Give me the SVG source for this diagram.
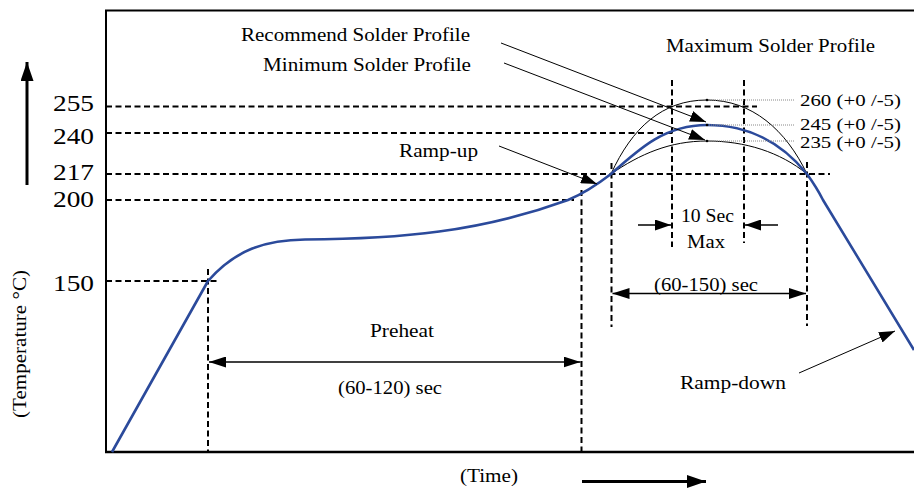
<svg xmlns="http://www.w3.org/2000/svg" width="914" height="488" viewBox="0 0 914 488">
<style>
text{font-family:"Liberation Serif","Times New Roman",serif;fill:#000}
.lbl{font-size:18px}
.num{font-size:23px}
.tol{font-size:16px}
.frame{stroke:#000;stroke-width:2;fill:none}
.dash{stroke:#000;stroke-width:2;stroke-dasharray:6 3.5;fill:none}
.blue{stroke:#2b4a9b;stroke-width:2.6;fill:none;stroke-linejoin:round}
.thin{stroke:#000;stroke-width:1;fill:none}
.dot{stroke:#888;stroke-width:1;stroke-dasharray:1 1;fill:none}
.lead{stroke:#000;stroke-width:1;fill:none;marker-end:url(#ah)}
.dim{stroke:#000;stroke-width:1.3;fill:none}
</style>
<defs>
<marker id="ah" markerUnits="userSpaceOnUse" markerWidth="16" markerHeight="11" refX="16" refY="5.5" orient="auto"><path d="M0,0 L16,5.5 L0,11 z" fill="#000"/></marker>
<marker id="ah2" markerUnits="userSpaceOnUse" markerWidth="17" markerHeight="11" refX="17" refY="5.5" orient="auto-start-reverse"><path d="M0,0 L17,5.5 L0,11 z" fill="#000"/></marker>
<marker id="ahb" markerUnits="userSpaceOnUse" markerWidth="19" markerHeight="13" refX="19" refY="6.5" orient="auto"><path d="M0,0 L19,6.5 L0,13 z" fill="#000"/></marker>
</defs>

<g id="frame">
<path class="frame" d="M914,10.5 H106 V452"/>
<path d="M105,452 H914" stroke="#000" stroke-width="2.5"/>
</g>

<g id="axes">
<line x1="27" y1="185" x2="27" y2="62" stroke="#000" stroke-width="3" marker-end="url(#ahb)"/>
<line x1="582" y1="481.5" x2="706" y2="481.5" stroke="#000" stroke-width="3" marker-end="url(#ahb)"/>
<text class="lbl" transform="translate(26,344) rotate(-90)" x="-74" y="0" textLength="148" lengthAdjust="spacingAndGlyphs">(Temperature °C)</text>
<text class="lbl" x="460" y="482" textLength="58" lengthAdjust="spacingAndGlyphs">(Time)</text>
</g>

<g id="ticks">
<text class="num" x="53" y="111" textLength="41" lengthAdjust="spacingAndGlyphs">255</text>
<text class="num" x="53" y="144" textLength="41" lengthAdjust="spacingAndGlyphs">240</text>
<text class="num" x="53" y="180" textLength="41" lengthAdjust="spacingAndGlyphs">217</text>
<text class="num" x="53" y="207" textLength="41" lengthAdjust="spacingAndGlyphs">200</text>
<text class="num" x="53" y="291" textLength="41" lengthAdjust="spacingAndGlyphs">150</text>
</g>

<g id="guides">
<line class="dash" x1="106" y1="106.5" x2="757" y2="106.5"/>
<line class="dash" x1="106" y1="133" x2="672" y2="133"/>
<line class="dash" x1="106" y1="174" x2="830" y2="174"/>
<line class="dash" x1="106" y1="200" x2="574" y2="200"/>
<line class="dash" x1="106" y1="281" x2="218" y2="281"/>
<line class="dash" x1="208" y1="269" x2="208" y2="452"/>
<line class="dash" x1="581.5" y1="190" x2="581.5" y2="452"/>
<line class="dash" x1="611.5" y1="163" x2="611.5" y2="327"/>
<line class="dash" x1="672" y1="80" x2="672" y2="247"/>
<line class="dash" x1="744" y1="80" x2="744" y2="243"/>
<line class="dash" x1="807" y1="162" x2="807" y2="326"/>
</g>

<g id="curves">
<path class="thin" d="M611,174 C632,128 662,100 707,100 C752,100 786,130 807,174"/>
<path class="thin" d="M611,174 C640,154 670,141 707,141 C745,141 780,152 807,174"/>
<path class="blue" d="M112,452 L208,281 C235,250 265,240 305,239.5 C400,239 480,232 568,200 C585,193 598,184 611,174 C640,148 665,125 707,125 C748,125 782,143 807,174 C812,181 818,190 823,200 L914,350"/>
</g>

<g id="peaks">
<line class="dot" x1="707" y1="100" x2="795" y2="100"/>
<line class="dot" x1="707" y1="125" x2="795" y2="125"/>
<line class="dot" x1="707" y1="141" x2="795" y2="141"/>
<circle cx="707" cy="100" r="1.3" fill="#000"/>
<circle cx="707" cy="125" r="1.3" fill="#000"/>
<circle cx="707" cy="141" r="1.3" fill="#000"/>
<text class="tol" x="800" y="106" textLength="101" lengthAdjust="spacingAndGlyphs">260 (+0 /-5)</text>
<text class="tol" x="800" y="130" textLength="101" lengthAdjust="spacingAndGlyphs">245 (+0 /-5)</text>
<text class="tol" x="800" y="148" textLength="101" lengthAdjust="spacingAndGlyphs">235 (+0 /-5)</text>
</g>

<g id="connectors">
<line class="lead" x1="501" y1="43" x2="706" y2="122"/>
<line class="lead" x1="504" y1="63" x2="705" y2="140"/>
<line class="lead" x1="499" y1="146" x2="597" y2="184"/>
<line class="lead" x1="799" y1="373" x2="895" y2="331"/>
<line class="dim" x1="209" y1="362" x2="580.5" y2="362" marker-start="url(#ah2)" marker-end="url(#ah2)"/>
<line class="dim" x1="612.5" y1="293.5" x2="806" y2="293.5" marker-start="url(#ah2)" marker-end="url(#ah2)"/>
<line class="dim" x1="638" y1="225" x2="671" y2="225" marker-end="url(#ah)"/>
<line class="dim" x1="778" y1="225" x2="745" y2="225" marker-end="url(#ah)"/>
</g>

<g id="labels">
<text class="lbl" x="241" y="41" textLength="229" lengthAdjust="spacingAndGlyphs">Recommend Solder Profile</text>
<text class="lbl" x="263" y="71" textLength="208" lengthAdjust="spacingAndGlyphs">Minimum Solder Profile</text>
<text class="lbl" x="666" y="52" textLength="209" lengthAdjust="spacingAndGlyphs">Maximum Solder Profile</text>
<text class="lbl" x="399" y="157" textLength="79" lengthAdjust="spacingAndGlyphs">Ramp-up</text>
<text class="lbl" x="681" y="222" textLength="53" lengthAdjust="spacingAndGlyphs">10 Sec</text>
<text class="lbl" x="687" y="248" textLength="38" lengthAdjust="spacingAndGlyphs">Max</text>
<text class="lbl" x="654" y="291" textLength="104" lengthAdjust="spacingAndGlyphs">(60-150) sec</text>
<text class="lbl" x="680" y="389" textLength="106" lengthAdjust="spacingAndGlyphs">Ramp-down</text>
<text class="lbl" x="370" y="337" textLength="64" lengthAdjust="spacingAndGlyphs">Preheat</text>
<text class="lbl" x="338" y="394" textLength="104" lengthAdjust="spacingAndGlyphs">(60-120) sec</text>
</g>
</svg>
